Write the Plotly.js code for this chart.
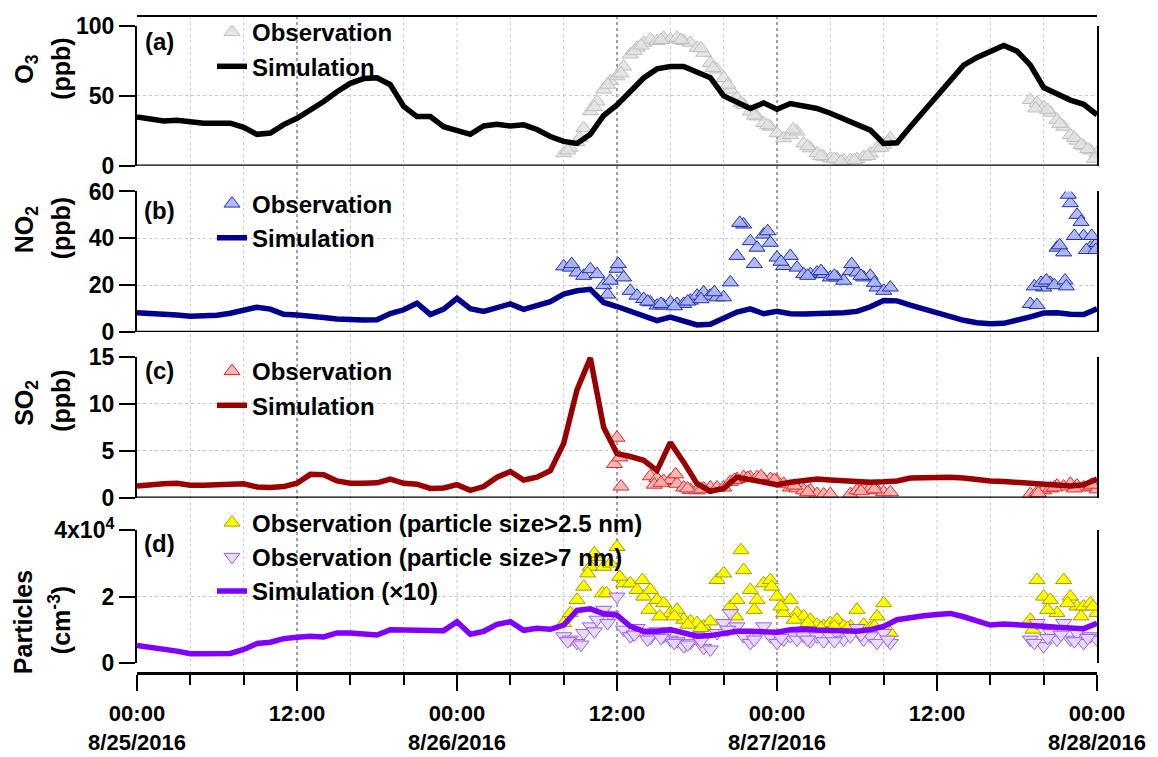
<!DOCTYPE html>
<html>
<head>
<meta charset="utf-8">
<script src="https://cdn.plot.ly/plotly-3.0.1.min.js"></script>
<style>html,body{margin:0;padding:0;background:#fff;}#chart{width:1158px;height:757px;}</style>
</head>
<body>
<div id="chart"></div>
<script>
// ---------------- DATA ----------------
// Simulation: hourly values, 8/25/2016 00:00 (hour 0) .. 8/28/2016 00:00 (hour 72)
const simStartHour = 0;
const o3Sim = [35,33,32,32.5,31.5,30.5,30.5,30.5,27.5,22.5, 23.5,29.5,34,39.5,46,53,59,62.4,63,58,
  42.5,35.2,35.2,28,25,22.5,28.5,29.7,28.5,29.3, 26,21,17.5,16,22.5,36,43.6,53.2,62.8,69.3,
  71,71,67.5,63,50,46,41,45,40.5,44.5, 42.5,41,37.6,33.5,29.7,25.5,16,16.5,28,39,
  51,61,72,77.5,82,86,82,72,56,51, 47,44,36.5];
const no2Sim = [8.2,8,7.8,7.3,6.7,6.8,7.2,8,9.5,10.6, 9.8,7.6,7.3,7,6.2,5.6,5.2,5.1,5.2,7.9,
  9.5,12.3,7.5,9.8,14.4,10,8.8,10.6,12,9.7, 11.3,13,16.2,17.6,18.2,12.6,10.9,8.8,6.6,4.9,
  6.4,4.5,3,3.3,5.6,8.5,9.9,7.8,8.9,7.8, 7.7,7.7,7.8,8.2,8.8,10.8,13.5,13.3,11.5,9.8,
  8.3,6.5,5,4,3.5,3.7,4.9,6.5,8.1,8.2, 7.6,7.5,9.9];
const so2Sim = [1.25,1.4,1.5,1.55,1.35,1.35,1.4,1.45,1.5,1.15, 1.1,1.2,1.55,2.5,2.45,1.8,1.55,1.55,1.6,2.0,
  1.55,1.45,1.0,1.05,1.4,0.8,1.2,2.2,2.8,1.9, 2.2,2.9,5.8,11.5,14.9,7.5,4.7,4.4,4.0,2.9,
  5.9,3.8,1.5,0.7,1.0,2.2,1.9,1.6,1.4,1.65, 1.8,2.0,1.9,1.8,1.7,1.65,1.7,1.8,2.1,2.15,
  2.2,2.2,2.1,1.9,1.8,1.75,1.65,1.55,1.45,1.3, 1.25,1.4,2.0];
const partSim = [5200,4700,4200,3500,2700,2700,2800,2800,4000,5800, 6200,7300,7700,8000,7800,9000,9000,8800,8400,10000,
  10000,10000,9700,9700,12400,8600,9500,11600,12400,9800, 10400,10100,11400,15800,16300,14800,14400,11000,9500,9500,
  10000,9000,8000,8200,8800,9500,9500,9300,9200,10000, 10200,9900,9700,9600,9500,10000,11000,13000,13700,14200,
  14600,14900,13900,12500,11400,11700,11600,11400,11000,10700, 10500,10300,11900];

// Observations: half-hourly segments (start hour, values) + extra scattered points (hours, values)
const obsStep = 0.5;
const o3ObsStartA = 32;
const o3ObsA = [9,13,17,27,39,46,54.5,60.5,64,71,79.6,84.4,88,90.4,89.2,91.6,90.4,91.6,89.2,88,
  84.4,80.8,73.6,68.8,62.8,54.4,48.4,43.6,38.8,35.3,30.5,28,23.3,19.7,22,24.5,16,12.5,8.9,6.5,
  5.3,4.6,4,4,4.8,6.5,8.9,12.5,15,19.7];
const o3ObsStartB = 67;
const o3ObsB = [47,45,42,38,33,28,22,18,14,11,9];
const o3ExtraHours = [32.3,33.2,34.3,35.3,36.3,37.3,37.8,39.3,40.8,42.3,43.2,44.3,45.3,46.3,47.3,49.2,50.3,51.3,52.3,52.8,53.8,54.8,55.8,56.3,67.4,68.3,69.2,70.3,70.8,71.3,71.8];
const o3ExtraVals = [11,20,42,58,66,82,86,90,90,84,70,58,45,36,29,26,14,7,5,3,4,7,13,17,41,40,30,20,15,12,5];

const no2ObsStartA = 32;
const no2ObsA = [28,27.5,25.4,24,26.8,24.7,20,21.9,27,23.3,17.6,15.5,14.1,12.7,11.3,11.3,12.7,12,12,13.4,
  15.5,16.9,15.5,14.8,14.8,21.2,32.5,45.9,38.8,36,41.6,38.1,31.8,28.2,32.5,27.5,24.7,24.7,25.4,24.7,
  23.3,23.3,21.9,26,25.4,23.3,24,19,17.6,19];
const no2ObsStartB = 67;
const no2ObsB = [12,11.5,19,21,36,34,55,50,41,36,38];
const no2ExtraHours = [32.6,35.3,36.1,38.3,39.3,40.3,41.3,42.3,43.3,45.2,46.3,47.3,48.3,50.3,51.3,52.3,53.6,54.3,55.3,67.3,67.8,68.2,68.8,69.2,69.6,69.85,70.3,70.8,71.2,71.6,71.9,69.7];
const no2ExtraVals = [29,16,29,13,12,11,13,14,17,46.6,29,43,30,24,26,24,29,24,21,19.5,21,22,20,37,22,58.6,41,47,35,41,35,19.5];

const so2ObsStartA = 38.5;
const so2ObsA = [2.3,2.1,1.8,1.9,1.5,1.1,0.85,0.8,1,1.1,1.1,1.1,1.7,2,2.2,2.2,2.2,2,2,1.8,
  1.5,1.1,1,0.8,0.8,0.4,0.35,0.4];
const so2ObsStartB = 53.5;
const so2ObsB = [0.4,0.8,1.1,1,0.8,0.6,0.6];
const so2ObsStartC = 67;
const so2ObsC = [0.4,0.6,0.8,1.0,1.3,1.2,1.5,1.3,1.1,1.2,0.9];
const so2ExtraHours = [35.8,36.0,36.2,36.3,40.4,38.8,39.3,41.3,42.3,44.8,45.8,46.8,47.8,49.3,50.3,54.3,55.3,67.6,68.8,70.3,71.6];
const so2ExtraVals = [3.6,6.4,4.3,1.2,2.5,1.4,1.6,1.0,0.9,1.9,2.1,2.3,1.9,1.3,0.6,0.7,0.9,0.5,1.1,1.0,1.4];

const p25ObsStartA = 32;
const p25ObsA = [12000,15000,19000,23000,29000,32000,29000,30000,35000,24000,24000,22000,20000,22000,19000,18000,15000,16000,13000,12500,
  12000,11000,12500,25000,27000,17000,19000,28000,22000,19000,24000,25000,20000,15000,19000,15000,14000,13000,11500,11000,
  12000,13000,11000,11000,16000,11500,10500,14000,18000,9000];
const p25ObsStartB = 67;
const p25ObsB = [13000,25000,20000,19000,15000,25000,20000,17000,17000,18000,15000];
const p25ExtraHours = [33.8,34.3,34.9,35.2,36.2,37.9,45.3,44.9,47.6,38.4,39.2,40.3,41.3,42.3,46.3,48.3,49.3,50.3,51.3,52.3,53.3,55.3,67.2,68.3,69.8,70.8,71.7];
const p25ExtraVals = [27000,33000,21000,21000,26000,25000,34000,14000,23000,16000,14000,14000,11500,10500,16000,17000,13000,12000,10500,11000,10500,11000,10000,16000,18000,14000,17000];

const p7ObsStartA = 32;
const p7ObsA = [8000,7000,6000,9000,11000,13000,16000,14500,20000,10000,8000,10500,9000,7500,9500,8000,7000,6500,5000,6000,
  8000,4500,4000,9000,12000,15000,11000,8000,6000,9000,11000,8000,6000,7000,8000,7000,8000,6500,8000,6500,
  8000,9000,7000,8000,10500,7000,8000,6000,9000,6000];
const p7ObsStartB = 67;
const p7ObsB = [7000,12000,5000,9000,7000,12000,7000,9000,6000,8000,7000];
const p7ExtraHours = [32.3,33.3,34.3,35.3,37.3,38.3,39.3,40.3,41.3,42.3,44.3,46.3,48.3,50.3,52.3,54.3,56.3,67.3,68.3,69.3,70.3,71.3];
const p7ExtraVals = [6500,5500,9500,12000,8500,7000,7500,6000,5500,6500,10000,7000,7500,7000,6500,8500,7000,6000,7500,8500,6500,7500];

// Tick labels of the time axis (every 12 h)
const timeTickHours = [0,12,24,36,48,60,72];
const timeTickText = ['00:00<br>8/25/2016','12:00','00:00<br>8/26/2016','12:00','00:00<br>8/27/2016','12:00','00:00<br>8/28/2016'];
const gridHours = [4,8,12,16,20,24,28,32,36,40,44,48,52,56,60,64,68];
const darkGridHours = [12,36,48];

// ---------------- HELPERS ----------------
const baseMs = Date.UTC(2016,7,25,0,0,0);
function hToDate(h){
  const d = new Date(baseMs + Math.round(h*3600000));
  return d.toISOString().slice(0,19).replace('T',' ');
}
function segTimes(start, arr){ return arr.map((_,i)=>hToDate(start + i*obsStep)); }
function simTimes(arr){ return arr.map((_,i)=>hToDate(simStartHour + i)); }

const FONT = 'Liberation Sans, Arial, sans-serif';
const tickFont = {family: FONT, size: 23, color: '#000', weight: 'bold'};

function obsTrace(name, times, vals, yaxis, legend, symbol, fill, edge){
  return {type:'scatter', mode:'markers', name, x: times, y: vals, yaxis, legend, showlegend:true,
    marker:{symbol, size:14, color: fill, line:{color: edge, width:1}}, hoverinfo:'skip'};
}
function simTrace(name, vals, yaxis, legend, color){
  return {type:'scatter', mode:'lines', name, x: simTimes(vals), y: vals, yaxis, legend,
    line:{color, width:5.5, shape:'linear'}, hoverinfo:'skip'};
}

const traces = [];
// (a) O3
traces.push(obsTrace('Observation', segTimes(o3ObsStartA,o3ObsA).concat(segTimes(o3ObsStartB,o3ObsB), o3ExtraHours.map(hToDate)),
  o3ObsA.concat(o3ObsB, o3ExtraVals), 'y', 'legend', 'triangle-up', 'rgba(226,226,226,0.85)', '#bdbdbd'));
traces.push(simTrace('Simulation', o3Sim, 'y', 'legend', '#000000'));
// (b) NO2
traces.push(obsTrace('Observation', segTimes(no2ObsStartA,no2ObsA).concat(segTimes(no2ObsStartB,no2ObsB), no2ExtraHours.map(hToDate)),
  no2ObsA.concat(no2ObsB, no2ExtraVals), 'y2', 'legend2', 'triangle-up', 'rgba(170,180,240,0.9)', '#1f2fb0'));
traces.push(simTrace('Simulation', no2Sim, 'y2', 'legend2', '#00008f'));
// (c) SO2
traces.push(obsTrace('Observation', segTimes(so2ObsStartA,so2ObsA).concat(segTimes(so2ObsStartB,so2ObsB), segTimes(so2ObsStartC,so2ObsC), so2ExtraHours.map(hToDate)),
  so2ObsA.concat(so2ObsB, so2ObsC, so2ExtraVals), 'y3', 'legend3', 'triangle-up', 'rgba(248,176,176,0.9)', '#e02828'));
traces.push(simTrace('Simulation', so2Sim, 'y3', 'legend3', '#990000'));
// (d) Particles
traces.push(obsTrace('Observation (particle size>2.5 nm)', segTimes(p25ObsStartA,p25ObsA).concat(segTimes(p25ObsStartB,p25ObsB), p25ExtraHours.map(hToDate)),
  p25ObsA.concat(p25ObsB, p25ExtraVals), 'y4', 'legend4', 'triangle-up', '#ffff00', '#a89a00'));
traces.push(obsTrace('Observation (particle size>7 nm)', segTimes(p7ObsStartA,p7ObsA).concat(segTimes(p7ObsStartB,p7ObsB), p7ExtraHours.map(hToDate)),
  p7ObsA.concat(p7ObsB, p7ExtraVals), 'y4', 'legend4', 'triangle-down', 'rgba(228,216,250,0.9)', '#9a5ee0'));
traces.push(simTrace('Simulation (\u00d710)', partSim, 'y4', 'legend4', '#8000ff'));

// ---------------- LAYOUT ----------------
const H = 757, T = 10, B = 84;
const plotH = H - T - B;
function py(pix){ return (H - B - pix) / plotH; }   // pixel row -> paper y
const L = 137, R = 61, plotW = 1158 - L - R;
function px(pix){ return (pix - L) / plotW; }        // pixel column -> paper x

function yAx(domain, range, tickvals, ticktext){
  const a = {domain, range, anchor:'x', tickvals, showline:true, linewidth:2, linecolor:'#000', mirror:true,
    ticks:'outside', ticklen:16, tickwidth:2, tickcolor:'#000', tickfont: tickFont,
    showgrid:true, gridcolor:'#c8c8c8', griddash:'dot', gridwidth:1, zeroline:false, fixedrange:true};
  if (ticktext) a.ticktext = ticktext;
  return a;
}

const shapes = [];
gridHours.forEach(h => {
  const dark = darkGridHours.indexOf(h) >= 0;
  shapes.push({type:'line', layer:'below', xref:'x', yref:'paper', x0:hToDate(h), x1:hToDate(h), y0:0, y1:py(14),
    line:{color: dark ? '#444' : '#c8c8c8', width:1, dash:'dot'}});
});
['y','y2','y3'].forEach(ya => shapes.push({type:'line', xref:'paper', yref:ya, x0:0, x1:1, y0:0, y1:0, line:{color:'#000', width:2.5}}));
shapes.push({type:'line', xref:'paper', yref:'paper', x0:0, x1:1, y0:py(14), y1:py(14), line:{color:'#000', width:2}});

const titleFont = {family: FONT, size: 25, color:'#000', weight:'bold'};
function ann(text, xp, yp, rot){
  return {text, xref:'paper', yref:'paper', x:px(xp), y:py(yp), xanchor:'center', yanchor:'middle',
    showarrow:false, textangle: rot || 0, font: rot ? titleFont : {family: FONT, size: 24, color:'#000', weight:'bold'}};
}
const annotations = [
  ann('(a)', 159, 40), ann('(b)', 159, 209), ann('(c)', 159, 370), ann('(d)', 159, 543),
  ann('O<sub>3</sub>', 26, 68, -90), ann('(ppb)', 61, 67, -90),
  ann('NO<sub>2</sub>', 26, 228, -90), ann('(ppb)', 61, 227, -90),
  ann('SO<sub>2</sub>', 26, 402, -90), ann('(ppb)', 61, 400, -90),
  ann('Particles', 23, 622, -90), ann('(cm<sup>-3</sup>)', 60, 620, -90)
];

const legFont = {family: FONT, size: 24, color:'#000', weight:'bold'};
function leg(topPix){
  return {x:px(212), y:py(topPix), xanchor:'left', yanchor:'top', bgcolor:'rgba(0,0,0,0)', borderwidth:0,
    font: legFont, tracegroupgap:0, itemsizing:'trace'};
}

const layout = {
  width:1158, height:H, margin:{l:L, r:R, t:T, b:B}, paper_bgcolor:'#fff', plot_bgcolor:'rgba(0,0,0,0)',
  showlegend:true,
  xaxis:{type:'date', range:[hToDate(0), hToDate(72)], anchor:'free', position:0,
    showline:true, linewidth:3, linecolor:'#000', showgrid:false, zeroline:false,
    ticks:'outside', ticklen:16, tickwidth:2, tickcolor:'#000',
    tickvals: timeTickHours.map(hToDate), ticktext: timeTickText,
    tickfont: {family: FONT, size: 22, color:'#000', weight:'bold'}, ticklabelstandoff: 4,
    minor:{dtick: 4*3600000, tick0: hToDate(0), ticks:'outside', ticklen:10, tickwidth:2, tickcolor:'#000', showgrid:false},
    fixedrange:true},
  yaxis: yAx([py(164.3), py(24)], [0,100], [0,50,100]),
  yaxis2: yAx([py(331), py(190)], [0,60], [0,20,40,60]),
  yaxis3: yAx([py(497.3), py(356)], [0,15], [0,5,10,15]),
  yaxis4: yAx([py(662.7), py(530)], [0,40000], [0,20000,40000], ['0','2','4x10<sup>4</sup>']),
  legend: leg(8), legend2: leg(180), legend3: leg(348), legend4: leg(500),
  shapes, annotations
};

Plotly.newPlot('chart', traces, layout, {staticPlot:true, displayModeBar:false});
</script>
</body>
</html>
